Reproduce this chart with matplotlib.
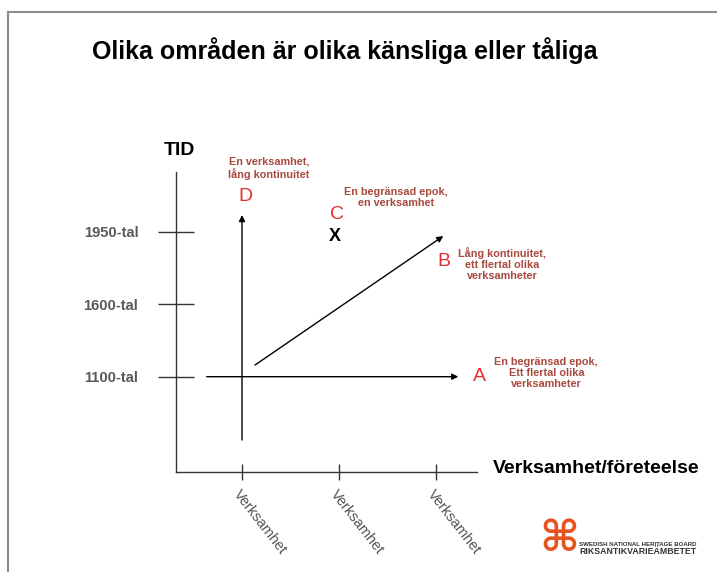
import matplotlib
matplotlib.use('Agg')
import matplotlib.pyplot as plt
from matplotlib.lines import Line2D

plt.rcParams['font.family'] = ['Liberation Sans', 'DejaVu Sans']

title = 'Olika områden är olika känsliga eller tåliga'
y_title = 'TID'
x_title = 'Verksamhet/företeelse'

# time axis (y) and activity axis (x)
time_labels = ['1100-tal', '1600-tal', '1950-tal']
time_pos = [1, 2, 3]
activity_labels = ['Verksamhet', 'Verksamhet', 'Verksamhet']
activity_pos = [1, 2, 3]

# arrows, in axis units (activity, time)
arrow_x0 = [1.00, 0.636, 1.134]
arrow_y0 = [0.127, 1.00, 1.161]
arrow_x1 = [1.00, 3.23, 3.075]
arrow_y1 = [3.23, 1.00, 2.94]

# case letters
letters = ['D', 'C', 'B', 'A']
letter_x = [1.031, 1.983, 3.082, 3.443]
letter_y = [3.49, 3.24, 2.586, 1.0]
mark_x, mark_y = 1.959, 2.93

# explanations next to the letters
notes = ['En verksamhet,\nlång kontinuitet',
         'En begränsad epok,\nen verksamhet',
         'Lång kontinuitet,\nett flertal olika\nverksamheter',
         'En begränsad epok,\nEtt flertal olika\nverksamheter']
note_x = [1.276, 2.586, 3.682, 4.137]
note_y = [3.874, 3.47, 2.55, 1.047]

W, H = 717, 572
fig = plt.figure(figsize=(W / 100, H / 100), dpi=100)
fig.patch.set_facecolor('white')

# slide frame
fig.add_artist(Line2D([8 / W, 8 / W], [0, 1 - 12 / H], color='#8c8c8c', lw=1.5))
fig.add_artist(Line2D([8 / W, 1], [1 - 12 / H, 1 - 12 / H], color='#8c8c8c', lw=1.5))

fig.text(92 / W, 1 - 51 / H, title, fontsize=18, weight='bold', va='center', ha='left')

ax = fig.add_axes([176 / W, 1 - 472 / H, (477 - 176) / W, (472 - 171.7) / H])
ax.set_xlim(0.3196, 3.4227)
ax.set_ylim(-0.3145, 3.8276)
ax.patch.set_alpha(0)
for s in ['top', 'right']:
    ax.spines[s].set_visible(False)
for s in ['left', 'bottom']:
    ax.spines[s].set_color('#333333')
    ax.spines[s].set_linewidth(1.0)

ax.set_yticks(time_pos, time_labels)
ax.tick_params(axis='y', direction='inout', length=26.4, width=1, color='#333333',
               pad=13.9, labelsize=10.6, labelcolor='#595959')
for t in ax.get_yticklabels():
    t.set_fontweight('bold')

ax.set_xticks(activity_pos, activity_labels)
ax.tick_params(axis='x', direction='inout', length=12, width=1, color='#333333',
               pad=5, labelsize=10.5, labelcolor='#555555')
for t in ax.get_xticklabels():
    t.set_rotation(-52)
    t.set_ha('left')
    t.set_va('top')
    t.set_rotation_mode('anchor')

ax.text(0.357, 4.12, y_title, fontsize=14, weight='bold', ha='center', va='center', clip_on=False)
ax.text(3.588, -0.27, x_title, fontsize=14, weight='bold', ha='left', va='center', clip_on=False)

for x0, y0, x1, y1 in zip(arrow_x0, arrow_y0, arrow_x1, arrow_y1):
    ax.annotate('', xy=(x1, y1), xytext=(x0, y0), annotation_clip=False,
                arrowprops=dict(arrowstyle='-|>', lw=1.0, color='black',
                                mutation_scale=9, shrinkA=0, shrinkB=0))

for lab, x, y in zip(letters, letter_x, letter_y):
    ax.text(x, y, lab, fontsize=14, color='#e0302f', ha='center', va='center', clip_on=False)
ax.text(mark_x, mark_y, 'X', fontsize=13, weight='bold', color='black',
        ha='center', va='center', clip_on=False)

for txt, x, y in zip(notes, note_x, note_y):
    ax.text(x, y, txt, fontsize=7.8, weight='bold', color='#a84a40', ha='center',
            va='center', linespacing=1.15, clip_on=False)

# logo
fig.text(559 / W, 1 - 539 / H, '\u2318', fontsize=31, family='DejaVu Sans',
         weight='bold', color='#e5531f', ha='center', va='center')
fig.text(579 / W, 1 - 544 / H, 'SWEDISH NATIONAL HERITAGE BOARD', fontsize=4.4,
         weight='bold', color='#333333', va='center', ha='left')
fig.text(579 / W, 1 - 551 / H, 'RIKSANTIKVARIEÄMBETET', fontsize=6.3,
         weight='bold', color='#333333', va='center', ha='left')

fig.savefig('out.png', dpi=100, facecolor='white')
